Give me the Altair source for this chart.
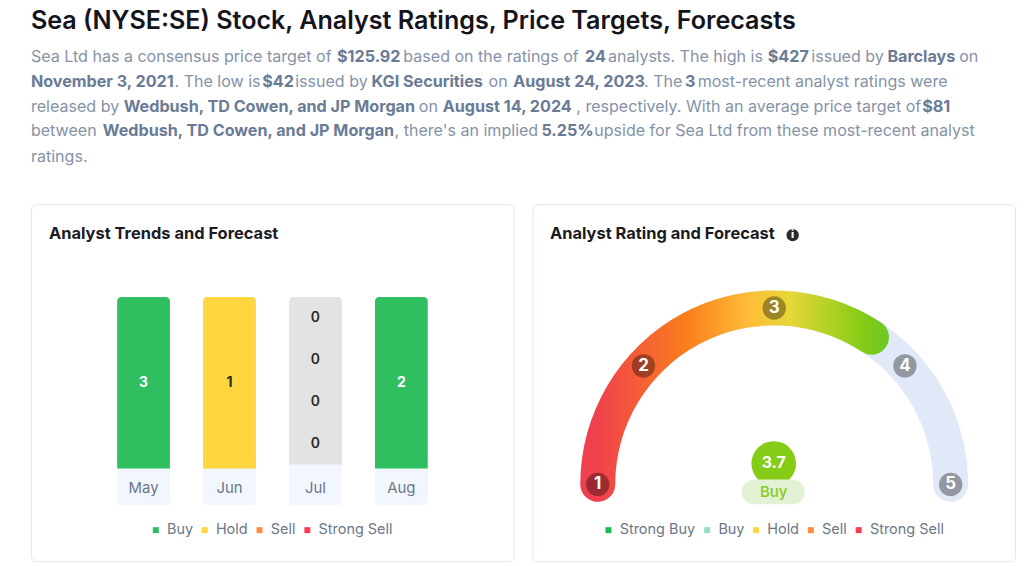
import math
import altair as alt
import numpy as np
import pandas as pd

FONT = "Inter"

# ---- header text
title_text = "Sea (NYSE:SE) Stock, Analyst Ratings, Price Targets, Forecasts"
line1_runs = ["Sea Ltd has a consensus price target of", "$125.92", "based on the ratings of", "24",
              "analysts. The high is", "$427", "issued by", "Barclays", "on"]
line2_runs = ["November 3, 2021", ". The low is", "$42", "issued by", "KGI Securities", "on",
              "August 24, 2023", ". The", "3", "most-recent analyst ratings were"]
line3_runs = ["released by", "Wedbush, TD Cowen, and JP Morgan", "on", "August 14, 2024",
              ", respectively. With an average price target of", "$81"]
line4_runs = ["between", "Wedbush, TD Cowen, and JP Morgan", ", there's an implied", "5.25%",
              "upside for Sea Ltd from these most-recent analyst"]
line5_runs = ["ratings."]
bold_runs = {"$125.92", "24", "$427", "Barclays", "November 3, 2021", "$42", "KGI Securities",
             "August 24, 2023", "3", "Wedbush, TD Cowen, and JP Morgan", "August 14, 2024",
             "$81", "5.25%"}
line1_x = [31, 338, 404.5, 586.7, 609.7, 770, 813.7, 890, 962]
line2_x = [31, 175, 263, 296, 372.7, 490, 514.7, 646, 687, 699.7]
line3_x = [31, 124, 420, 444, 578, 925]
line4_x = [31, 103, 395.7, 543, 596]
line5_x = [31]
line_y = [56, 81, 106, 131, 157]

# ---- left panel
months = ["May", "Jun", "Jul", "Aug"]
trend_ratings = ["Buy", "Hold", "Sell", "Strong Sell"]
trend_colors = ["#30bf60", "#ffd540", "#ff8c42", "#fb3b53"]
buy_counts = [3, 0, 0, 2]
hold_counts = [0, 1, 0, 0]
sell_counts = [0, 0, 0, 0]
strong_sell_counts = [0, 0, 0, 0]

# ---- right panel
gauge_ratings = [1, 2, 3, 4, 5]
gauge_angles = [-90, -47.8, 0, 47.8, 90]
consensus_value = 3.7
consensus_label = "Buy"
gauge_legend = ["Strong Buy", "Buy", "Hold", "Sell", "Strong Sell"]
gauge_legend_colors = ["#1fb959", "#98debc", "#ffd540", "#ff8c42", "#fb3b53"]

# ---- build tables
rows = []
cols = [buy_counts, hold_counts, sell_counts, strong_sell_counts]
for i, m in enumerate(months):
    counts = [c[i] for c in cols]
    total = sum(counts)
    shown = [(r, c) for r, c in zip(trend_ratings, counts) if c > 0] if total else list(zip(trend_ratings, counts))
    share = 1 / len(shown)
    for k, (r, c) in enumerate(shown):
        rows.append({"month": m, "rating": r, "count": c, "y0": k * share, "y1": (k + 1) * share,
                     "mid": 1 - (k + 0.5) * share, "empty": total == 0})
seg = pd.DataFrame(rows)
filled = seg[~seg["empty"]]
empty = seg[seg["empty"]]

xs = alt.X("month:N", axis=None, sort=months,
           scale=alt.Scale(domain=months, range=[86.5, 398], paddingInner=0.386, paddingOuter=0))
yfull = alt.Scale(domain=[0, 1], range=[265, 93])
yjul = alt.Scale(domain=[0, 1], range=[261, 93])
CARD = alt.ViewBackground(stroke="#dfe7f3", strokeWidth=1, cornerRadius=5, fill="white")


def label(txt, x, y, size, color, weight=400, align="left"):
    return alt.Chart(pd.DataFrame({"t": [txt]})).mark_text(
        font=FONT, fontSize=size, fontWeight=weight, color=color, align=align, baseline="middle"
    ).encode(x=alt.value(x), y=alt.value(y), text="t:N")


pill = alt.Chart(pd.DataFrame({"month": months})).mark_bar(
    color="#f2f7ff", cornerRadiusBottomLeft=4, cornerRadiusBottomRight=4
).encode(x=xs, y=alt.value(255), y2=alt.value(302))


def legend_at(x):
    return alt.Legend(orient="none", legendX=x, legendY=319.5, direction="horizontal",
                      title=None, symbolType="square", symbolSize=36, labelFont=FONT,
                      labelFontSize=14.5, labelColor="#6b7688", labelOffset=4,
                      columnPadding=4, symbolStrokeWidth=0, symbolOpacity=1)


bars = alt.Chart(filled).mark_bar(cornerRadiusTopLeft=4, cornerRadiusTopRight=4).encode(
    x=xs,
    y=alt.Y("y0:Q", axis=None, scale=yfull),
    y2="y1:Q",
    color=alt.Color("rating:N", scale=alt.Scale(domain=trend_ratings, range=trend_colors), legend=legend_at(118)),
)
bar_text = alt.Chart(filled).mark_text(font=FONT, fontSize=14, fontWeight=700, baseline="middle").encode(
    x=xs,
    y=alt.Y("mid:Q", axis=None, scale=yfull),
    text="count:Q",
    color=alt.condition("datum.rating == 'Buy'", alt.value("white"), alt.value("#2a2a2a")),
)
jul_bar = alt.Chart(pd.DataFrame({"month": ["Jul"], "a": [0], "b": [1]})).mark_bar(
    color="#e3e3e3", cornerRadiusTopLeft=4, cornerRadiusTopRight=4
).encode(x=xs, y=alt.Y("a:Q", axis=None, scale=yjul), y2="b:Q")
jul_text = alt.Chart(empty).mark_text(font=FONT, fontSize=14, fontWeight=600, color="#2a2a2a", baseline="middle").encode(
    x=xs, y=alt.Y("mid:Q", axis=None, scale=yjul), text="count:Q"
)
month_text = alt.Chart(pd.DataFrame({"month": months})).mark_text(
    font=FONT, fontSize=15, color="#6b7688", baseline="middle"
).encode(x=xs, y=alt.value(285), text="month:N")

left = alt.layer(
    pill, bars, jul_bar, bar_text, jul_text, month_text,
    label("Analyst Trends and Forecast", 18, 30, 16.5, "#1b1b24", 700),
).resolve_scale(y="independent").properties(width=484, height=358, view=CARD)

# ---- gauge
CX, CY, R_OUT, R_IN = 242.5, 281, 194.5, 159.5
R_MID = (R_OUT + R_IN) / 2
CAP = math.degrees((R_OUT - R_IN) / 2 / R_MID)


def angle(r):
    return float(np.interp(r, gauge_ratings, gauge_angles))


theta_scale = alt.Scale(domain=[-90, 90], range=[-math.pi / 2, math.pi / 2])


def arc(end, fill):
    d = pd.DataFrame({"t0": [angle(1) - CAP], "t1": [angle(end) + CAP]})
    return alt.Chart(d).mark_arc(radius=R_OUT, radius2=R_IN, cornerRadius=(R_OUT - R_IN) / 2, fill=fill).encode(
        theta=alt.Theta("t0:Q", scale=theta_scale), theta2="t1:Q", x=alt.value(CX), y=alt.value(CY)
    )


gradient = alt.Gradient(
    gradient="linear", x1=0, x2=1, y1=0, y2=0,
    stops=[alt.GradientStop(offset=0.05, color="#f0404e"),
           alt.GradientStop(offset=0.34, color="#f97d1c"),
           alt.GradientStop(offset=0.55, color="#ffbe38"),
           alt.GradientStop(offset=0.68, color="#e6d738"),
           alt.GradientStop(offset=0.91, color="#86cc16"),
           alt.GradientStop(offset=1.0, color="#6cc824")],
)
gauge_df = pd.DataFrame({
    "rating": gauge_ratings,
    "gx": [math.sin(math.radians(a)) for a in gauge_angles],
    "gy": [math.cos(math.radians(a)) for a in gauge_angles],
})
gx = alt.X("gx:Q", axis=None, scale=alt.Scale(domain=[-1, 1], range=[CX - R_MID, CX + R_MID]))
gy = alt.Y("gy:Q", axis=None, scale=alt.Scale(domain=[-1, 1], range=[CY + R_MID, CY - R_MID]))
dots = alt.Chart(gauge_df).mark_circle(size=551, color="black", opacity=0.35).encode(x=gx, y=gy)
dot_text = alt.Chart(gauge_df).mark_text(font=FONT, fontSize=17, fontWeight=700, color="white", baseline="middle").encode(
    x=gx, y=gy, text="rating:Q"
)
bubble = alt.Chart(pd.DataFrame({"v": [consensus_value]})).mark_circle(size=2003, color="#84cc16", opacity=1).encode(
    x=alt.value(242), y=alt.value(260)
)
bubble_text = alt.Chart(pd.DataFrame({"v": [f"{consensus_value}"]})).mark_text(
    font=FONT, fontSize=16, fontWeight=700, color="white", baseline="middle"
).encode(x=alt.value(242), y=alt.value(260), text="v:N")
rating_pill = alt.Chart(pd.DataFrame({"v": [1]})).mark_rect(color="#e2f0d4", cornerRadius=12.5).encode(
    x=alt.value(210), x2=alt.value(273), y=alt.value(276), y2=alt.value(301)
)
pill_text = label(consensus_label, 242, 288.5, 15, "#84cc16", 500, "center")
legend_layer = alt.Chart(pd.DataFrame({"r": gauge_legend})).transform_filter("false").mark_square(size=36).encode(
    color=alt.Color("r:N", scale=alt.Scale(domain=gauge_legend, range=gauge_legend_colors), legend=legend_at(69))
)
info = alt.Chart(pd.DataFrame({"v": [1]})).mark_circle(size=154, color="#2b2b2b", opacity=1).encode(
    x=alt.value(261), y=alt.value(31)
)

right = alt.layer(
    arc(5, "#e1e9f8"), arc(consensus_value, gradient), dots, dot_text, bubble, bubble_text,
    rating_pill, pill_text, legend_layer,
    label("Analyst Rating and Forecast", 17.5, 30, 16.5, "#1b1b24", 700),
    info, label("i", 261, 31, 11, "white", 800, "center"),
).properties(width=484, height=358, view=CARD)

# ---- header
run_rows = []
for y, runs, xp in zip(line_y, [line1_runs, line2_runs, line3_runs, line4_runs, line5_runs],
                       [line1_x, line2_x, line3_x, line4_x, line5_x]):
    for t, x in zip(runs, xp):
        run_rows.append({"t": t, "x": x, "y": y - 8, "b": t in bold_runs})
runs_df = pd.DataFrame(run_rows)
hx = alt.X("x:Q", axis=None, scale=alt.Scale(domain=[31, 1016], range=[0, 985]))
hy = alt.Y("y:Q", axis=None, scale=alt.Scale(domain=[0, 195], range=[0, 195]))
reg = alt.Chart(runs_df[~runs_df["b"]]).mark_text(
    font=FONT, fontSize=16.1, color="#8592a8", align="left", baseline="middle"
).encode(x=hx, y=hy, text="t:N")
bld = alt.Chart(runs_df[runs_df["b"]]).mark_text(
    font=FONT, fontSize=16.2, fontWeight=700, color="#6a7b96", align="left", baseline="middle"
).encode(x=hx, y=hy, text="t:N")
header = alt.layer(
    label(title_text, 0, 12.6, 25.2, "#14141c", 600), reg, bld
).properties(width=985, height=195, view=alt.ViewBackground(stroke="transparent"))

cards = alt.hconcat(left, right, spacing=17).resolve_scale(color="independent").resolve_legend(color="independent")
chart = alt.vconcat(
    header,
    cards,
    spacing=0,
    padding={"left": 22, "top": 0, "right": 0, "bottom": 0},
).resolve_scale(color="independent").resolve_legend(color="independent").configure(background="white").configure_view(strokeWidth=0)

chart.save("out.html", embed_options={"renderer": "svg", "actions": False})
